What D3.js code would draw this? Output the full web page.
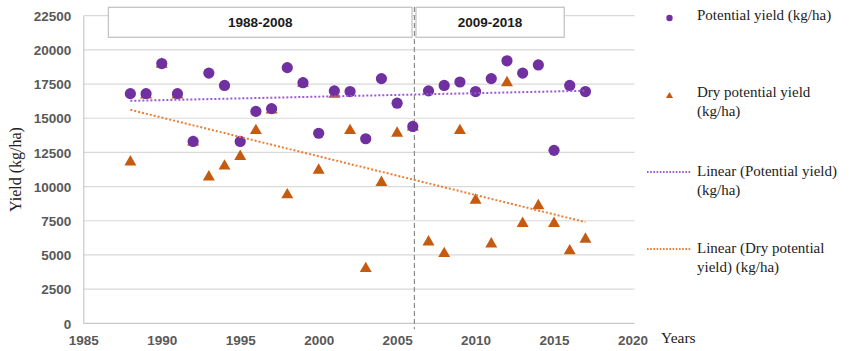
<!DOCTYPE html>
<html>
<head>
<meta charset="utf-8">
<script src="https://cdn.jsdelivr.net/npm/d3@7"></script>
<style>
  body { margin: 0; background: #fff; }
  svg { display: block; }
</style>
</head>
<body>
<div id="chart"></div>
<script>
// DATA
const years = [1988, 1989, 1990, 1991, 1992, 1993, 1994, 1995, 1996, 1997,
  1998, 1999, 2000, 2001, 2002, 2003, 2004, 2005, 2006, 2007,
  2008, 2009, 2010, 2011, 2012, 2013, 2014, 2015, 2016, 2017]
const potentialYield = [16800, 16800, 19000, 16800, 13300, 18300, 17400, 13300, 15500, 15700,
  18700, 17600, 13900, 17000, 16950, 13500, 17900, 16100, 14400, 17000,
  17400, 17650, 16950, 17900, 19200, 18300, 18900, 12650, 17400, 16950]
const dryPotentialYield = [11800, 16700, 18950, 16700, 13250, 10700, 11500, 12200, 14100, 15600,
  9400, 17550, 11200, 16750, 14100, 4000, 10300, 13900, 14350, 5950,
  5100, 14100, 9000, 5800, 17600, 7300, 8600, 7300, 5300, 6150]
const yTicks = [0, 2500, 5000, 7500, 10000, 12500, 15000, 17500, 20000, 22500]
const xTicks = [1985, 1990, 1995, 2000, 2005, 2010, 2015, 2020]
const periods = [
  { label: "1988-2008", from: 1986.6, to: 2005.95 },
  { label: "2009-2018", from: 2006.2, to: 2015.65 },
]
const splitYear = 2006.1

const legendItems = [
  { type: "circle", lines: ["Potential yield (kg/ha)"] },
  { type: "triangle", lines: ["Dry potential yield", "(kg/ha)"] },
  { type: "trendPurple", lines: ["Linear (Potential yield)", "(kg/ha)"] },
  { type: "trendOrange", lines: ["Linear (Dry potential", "yield) (kg/ha)"] },
]

const purple = "#7030a0"
const orange = "#c55a11"
const purpleTrend = "#9a5ad2"
const orangeTrend = "#ed7d31"

// DIMENSIONS
const width = 850
const height = 351
const plot = { left: 83.3, right: 632.5, top: 15.7, bottom: 323.3 }

const wrapper = d3.select("#chart")
  .append("svg")
  .attr("width", width)
  .attr("height", height)

const xScale = d3.scaleLinear()
  .domain([1985, 2020])
  .range([plot.left, plot.right])

const yScale = d3.scaleLinear()
  .domain([0, 22500])
  .range([plot.bottom, plot.top])

// GRID
wrapper.append("g")
  .selectAll("line")
  .data(yTicks.filter(d => d > 0))
  .join("line")
    .attr("x1", plot.left)
    .attr("x2", plot.right + 2)
    .attr("y1", d => yScale(d))
    .attr("y2", d => yScale(d))
    .attr("stroke", "#d9d9d9")
    .attr("stroke-width", 1.2)

// AXES
const yAxis = wrapper.append("g")
  .attr("transform", `translate(${plot.left},0)`)
  .call(d3.axisLeft(yScale).tickValues(yTicks).tickSize(0).tickPadding(12).tickFormat(d3.format("d")))
yAxis.select(".domain").attr("stroke", "#c8c8c8").attr("stroke-width", 1.2)

const xAxis = wrapper.append("g")
  .attr("transform", `translate(0,${plot.bottom})`)
  .call(d3.axisBottom(xScale).tickValues(xTicks).tickSize(0).tickPadding(12).tickFormat(d3.format("d")))
xAxis.select(".domain").attr("stroke", "#c8c8c8").attr("stroke-width", 1.2)
  .attr("d", `M${plot.left},0H${plot.right + 2}`)

wrapper.selectAll(".tick text")
  .attr("fill", "#595959")
  .style("font-family", "'Liberation Sans', Arial, sans-serif")
  .style("font-weight", "bold")
  .style("font-size", "13.5px")
yAxis.selectAll(".tick text").attr("dy", "0.35em")

wrapper.append("text")
  .attr("transform", `translate(21,${(plot.top + plot.bottom) / 2}) rotate(-90)`)
  .attr("text-anchor", "middle")
  .style("font-family", "'Liberation Serif', 'Times New Roman', serif")
  .style("font-size", "16px")
  .attr("fill", "#222")
  .text("Yield (kg/ha)")

wrapper.append("text")
  .attr("x", 661)
  .attr("y", 343)
  .style("font-family", "'Liberation Serif', 'Times New Roman', serif")
  .style("font-size", "15.5px")
  .attr("fill", "#222")
  .text("Years")

// PERIOD SPLIT
wrapper.append("line")
  .attr("x1", xScale(splitYear))
  .attr("x2", xScale(splitYear))
  .attr("y1", 7)
  .attr("y2", plot.bottom + 6)
  .attr("stroke", "#8c8c8c")
  .attr("stroke-width", 1.2)
  .attr("stroke-dasharray", "5 3")

const periodBoxes = wrapper.append("g")
  .selectAll("g")
  .data(periods)
  .join("g")
periodBoxes.append("rect")
  .attr("x", d => xScale(d.from))
  .attr("y", 7.3)
  .attr("width", d => xScale(d.to) - xScale(d.from))
  .attr("height", 30)
  .attr("fill", "#fff")
  .attr("stroke", "#c4c4c4")
  .attr("stroke-width", 1.3)
periodBoxes.append("text")
  .attr("x", d => (xScale(d.from) + xScale(d.to)) / 2)
  .attr("y", 27)
  .attr("text-anchor", "middle")
  .style("font-family", "'Liberation Sans', Arial, sans-serif")
  .style("font-weight", "bold")
  .style("font-size", "13.5px")
  .attr("fill", "#1a1a1a")
  .text(d => d.label)

// TRENDS (least squares)
const fit = ys => {
  const mx = d3.mean(years)
  const my = d3.mean(ys)
  const slope = d3.sum(years, (x, i) => (x - mx) * (ys[i] - my))
    / d3.sum(years, x => (x - mx) ** 2)
  return x => my + slope * (x - mx)
}
const trends = [
  { f: fit(potentialYield), color: purpleTrend },
  { f: fit(dryPotentialYield), color: orangeTrend },
]
const x0 = d3.min(years)
const x1 = d3.max(years)

// MARKERS
const triangle = d3.symbol().type(d3.symbolTriangle)

wrapper.append("g")
  .selectAll("path")
  .data(years)
  .join("path")
    .attr("d", triangle.size(62)())
    .attr("transform", (d, i) => `translate(${xScale(d)},${yScale(dryPotentialYield[i])})`)
    .attr("fill", orange)

wrapper.append("g")
  .selectAll("circle")
  .data(years)
  .join("circle")
    .attr("cx", d => xScale(d))
    .attr("cy", (d, i) => yScale(potentialYield[i]))
    .attr("r", 5.6)
    .attr("fill", purple)

wrapper.append("g")
  .selectAll("line")
  .data(trends)
  .join("line")
    .attr("x1", xScale(x0))
    .attr("x2", xScale(x1))
    .attr("y1", d => yScale(d.f(x0)))
    .attr("y2", d => yScale(d.f(x1)))
    .attr("stroke", d => d.color)
    .attr("stroke-width", 2)
    .attr("stroke-dasharray", "2 2")

// LEGEND
const legendTop = [20, 97, 176, 253]
const legend = wrapper.append("g")
  .selectAll("g")
  .data(legendItems)
  .join("g")
    .attr("transform", (d, i) => `translate(0,${legendTop[i]})`)

legend.each(function (d) {
  const g = d3.select(this)
  if (d.type === "circle") {
    g.append("circle").attr("cx", 669.5).attr("cy", -2).attr("r", 3.2).attr("fill", purple)
  } else if (d.type === "triangle") {
    g.append("path").attr("d", triangle.size(22)())
      .attr("transform", "translate(669.5,-1)").attr("fill", orange)
  } else {
    g.append("line")
      .attr("x1", 647).attr("x2", 691)
      .attr("y1", -4).attr("y2", -4)
      .attr("stroke", d.type === "trendPurple" ? purpleTrend : orangeTrend)
      .attr("stroke-width", 2)
      .attr("stroke-dasharray", "1.6 1.6")
  }
  g.append("text")
    .attr("x", 697)
    .style("font-family", "'Liberation Serif', 'Times New Roman', serif")
    .style("font-size", "15px")
    .attr("fill", "#222")
    .selectAll("tspan")
    .data(d.lines)
    .join("tspan")
      .attr("x", 697)
      .attr("y", (l, i) => i * 18.5)
      .text(l => l)
})
</script>
</body>
</html>
